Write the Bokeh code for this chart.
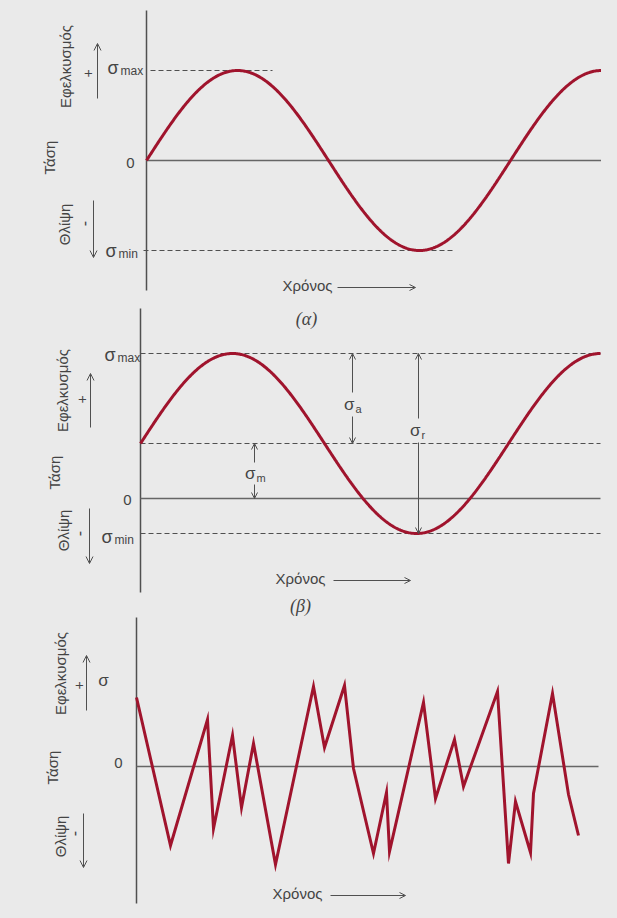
import numpy as np
from bokeh.plotting import figure
from bokeh.layouts import column
from bokeh.models import Range1d, Label, Arrow, OpenHead
from bokeh.embed import file_html
from bokeh.resources import INLINE

# ---------------- data ----------------
# Panel (α): fully reversed stress cycle
a_sigma_max = 90
a_sigma_min = -90
a_period = 364
a_t_end = 462

# Panel (β): repeated stress cycle with mean stress
b_sigma_max = 145
b_sigma_min = -35
b_sigma_m = (b_sigma_max + b_sigma_min) / 2
b_sigma_a = (b_sigma_max - b_sigma_min) / 2
b_period = 368
b_t_end = 460

# Panel (γ): random stress history
c_time = [0, 34, 71, 77, 96, 105, 117, 139, 177, 188, 208, 217, 237, 250, 253,
          287, 299, 318, 327, 361, 372, 379, 394, 397, 416, 432, 442]
c_stress = [69, -79, 47, -62, 31, -41, 23, -98, 80, 19, 81, -2, -87, -26, -85,
            64, -32, 27, -20, 75, -97, -35, -86, -27, 73, -28, -69]

# ---------------- style ----------------
BG = "#eaeaea"
RED = "#a0142d"
INK = "#444444"
AX = "#505050"
SANS = "Liberation Sans"
W = 601


def make_fig(h, xr, yr):
    p = figure(width=W, height=h, x_range=Range1d(*xr), y_range=Range1d(*yr),
               output_backend="svg", toolbar_location=None, min_border=0,
               x_axis_location=None, y_axis_location=None,
               background_fill_color=BG, border_fill_color=BG,
               outline_line_color=None)
    p.grid.visible = False
    return p


def lab(p, x, y, text, size=15, angle=0.0, align="center", baseline="middle",
        font=SANS, style="normal", color=INK):
    p.add_layout(Label(x=x, y=y, text=text, angle=angle, text_align=align,
                       text_baseline=baseline, text_font=font,
                       text_font_style=style, text_font_size=f"{size}px",
                       text_color=color))


def arrow(p, x0, y0, x1, y1, size=7):
    p.add_layout(Arrow(end=OpenHead(size=size, line_color=AX, line_width=1),
                       x_start=x0, y_start=y0, x_end=x1, y_end=y1,
                       line_color=AX, line_width=1))


def sub_label(p, x, y, sub, dy=-3):
    lab(p, x, y, "σ", size=18, align="right")
    lab(p, x + 2, y + dy, sub, size=12, align="left")


def side_labels(p, ef_y, ta_y, th_y, plus, minus, up, down, xs):
    ef_x, ta_x, th_x = xs
    lab(p, ef_x, ef_y, "Εφελκυσμός", size=15, angle=np.pi / 2)
    lab(p, ta_x, ta_y, "Τάση", size=15, angle=np.pi / 2)
    lab(p, th_x, th_y, "Θλίψη", size=15, angle=np.pi / 2)
    lab(p, plus[0], plus[1], "+", size=14, angle=np.pi / 2)
    lab(p, minus[0], minus[1], "-", size=16, angle=np.pi / 2)
    arrow(p, up[0], up[1], up[0], up[2])
    arrow(p, down[0], down[1], down[0], down[2])


# ---------------- panel (α) ----------------
p1 = make_fig(298, (-146, 455), (-138, 160))
t1 = np.linspace(0, a_t_end, 500)
s1 = a_sigma_max * np.sin(2 * np.pi * t1 / a_period)
p1.line([0, 0], [150, -130], line_color=AX, line_width=1.5)
p1.line([0, 464], [0, 0], line_color="#666666", line_width=1.5)
p1.line([4, 126], [a_sigma_max, a_sigma_max], line_color=AX, line_width=1.1, line_dash="5 3")
p1.line([-3, 307], [a_sigma_min, a_sigma_min], line_color=AX, line_width=1.1, line_dash="5 3")
p1.line(t1, s1, line_color=RED, line_width=3)
sub_label(p1, -28, a_sigma_max + 3, "max")
sub_label(p1, -30, a_sigma_min, "min")
lab(p1, -16, -2, "0", size=15)
side_labels(p1, 94, 3, -64, (-59, 87), (-63, -63), (-49, 62, 117), (-53, -40, -97),
            (-81, -97, -82))
lab(p1, 136, -125, "Χρόνος", size=15, align="left")
arrow(p1, 191, -127, 269, -127, size=6)

# ---------------- panel (β) ----------------
p2 = make_fig(318, (-140, 461), (-118, 200))
t2 = np.linspace(0, b_t_end, 500)
s2 = b_sigma_m + b_sigma_a * np.sin(2 * np.pi * t2 / b_period)
p2.line([0, 0], [190, -94], line_color=AX, line_width=1.5)
p2.line([0, 460], [0, 0], line_color="#666666", line_width=1.5)
for lvl in (b_sigma_max, b_sigma_m, b_sigma_min):
    p2.line([0, 460], [lvl, lvl], line_color=AX, line_width=1.1, line_dash="5 3")
p2.line(t2, s2, line_color=RED, line_width=3)
# σa
arrow(p2, 212, 106, 212, b_sigma_max, size=6)
arrow(p2, 212, 82, 212, b_sigma_m, size=6)
lab(p2, 214, 94, "σ", size=17, align="right")
lab(p2, 215, 90, "a", size=11, align="left")
# σr
arrow(p2, 278, 80, 278, b_sigma_max, size=6)
arrow(p2, 278, 56, 278, b_sigma_min, size=6)
lab(p2, 280, 68, "σ", size=17, align="right")
lab(p2, 281, 64, "r", size=11, align="left")
# σm
arrow(p2, 114, 36, 114, b_sigma_m, size=6)
arrow(p2, 114, 14, 114, 0, size=6)
lab(p2, 115, 25, "σ", size=17, align="right")
lab(p2, 116, 21, "m", size=11, align="left")
sub_label(p2, -25, b_sigma_max - 1, "max")
sub_label(p2, -28, b_sigma_min - 3, "min")
lab(p2, -13, -1, "0", size=15)
side_labels(p2, 108, 26, -32, (-59, 99), (-62, -35), (-50, 71, 125), (-51, -10, -65),
            (-78, -86, -77))
lab(p2, 135, -80, "Χρόνος", size=15, align="left")
arrow(p2, 193, -82, 270, -82, size=6)
lab(p2, 166, 180, "(α)", size=18, font="Liberation Serif", style="italic")
lab(p2, 160, -107, "(β)", size=18, font="Liberation Serif", style="italic")

# ---------------- panel (γ) ----------------
p3 = make_fig(294, (-136, 465), (-144, 150))
p3.line([0, 0], [149, -137], line_color=AX, line_width=1.5)
p3.line([0, 462], [0, 0], line_color="#666666", line_width=1.5)
p3.line(c_time, c_stress, line_color=RED, line_width=3, line_join="miter")
lab(p3, -33, 86, "σ", size=17)
lab(p3, -18, 4, "0", size=15)
side_labels(p3, 93, -1, -70, (-58, 81), (-63, -67), (-50, 56, 111), (-53, -47, -101),
            (-76, -84, -76))
lab(p3, 136, -127, "Χρόνος", size=15, align="left")
arrow(p3, 194, -129, 269, -129, size=6)

layout = column(p1, p2, p3, spacing=0)
html = file_html(layout, INLINE)
html = html.replace("</head>", "<style>html,body{background:#eaeaea;}</style></head>", 1)
open("out.html", "w").write(html)
